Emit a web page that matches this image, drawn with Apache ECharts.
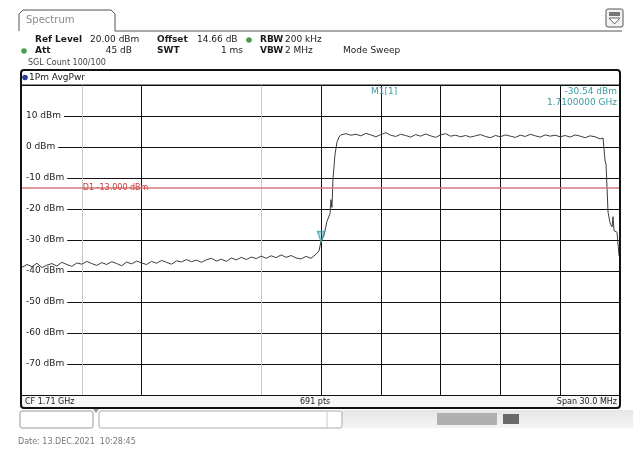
<!DOCTYPE html>
<html><head><meta charset="utf-8">
<script src="https://cdn.jsdelivr.net/npm/echarts@6/dist/echarts.min.js"></script>
<style>html,body{margin:0;padding:0;background:#fff}#c{width:633px;height:450px}</style>
</head><body><div id="c"></div>
<script>
// ---- data ----
const freqMHz = [
 1695.00,1695.25,1695.50,1695.75,1696.00,1696.25,1696.50,1696.75,1697.00,1697.25,
 1697.50,1697.75,1698.00,1698.25,1698.50,1698.75,1699.00,1699.25,1699.50,1699.75,
 1700.00,1700.25,1700.50,1700.75,1701.00,1701.25,1701.50,1701.75,1702.00,1702.25,
 1702.50,1702.75,1703.00,1703.25,1703.50,1703.75,1704.00,1704.25,1704.50,1704.75,
 1705.00,1705.25,1705.50,1705.75,1706.00,1706.25,1706.50,1706.75,1707.00,1707.25,
 1707.50,1707.75,1708.00,1708.25,1708.50,1708.75,1709.00,1709.25,1709.50,1709.75,
 1709.90,1710.00,1710.05,1710.15,1710.30,1710.45,1710.50,1710.55,1710.60,1710.70,1710.80,1710.90,1711.00,
 1711.25,1711.50,1711.75,1712.00,1712.25,1712.50,1712.75,1713.00,1713.25,1713.50,
 1713.75,1714.00,1714.25,1714.50,1714.75,1715.00,1715.25,1715.50,1715.75,1716.00,
 1716.25,1716.50,1716.75,1717.00,1717.25,1717.50,1717.75,1718.00,1718.25,1718.50,
 1718.75,1719.00,1719.25,1719.50,1719.75,1720.00,1720.25,1720.50,1720.75,1721.00,
 1721.25,1721.50,1721.75,1722.00,1722.25,1722.50,1722.75,1723.00,1723.25,1723.50,
 1723.75,1724.00,
 1724.15,1724.25,1724.30,1724.40,1724.50,1724.60,1724.65,1724.70,1724.85,1724.95,1725.00
];
const levelDbm = [
 -38.8,-37.9,-38.6,-37.5,-38.9,-38.1,-37.6,-38.4,-37.2,-37.9,
 -38.5,-37.4,-37.8,-36.9,-37.6,-38.2,-37.3,-37.9,-37.0,-37.6,
 -38.3,-37.1,-37.7,-36.8,-37.4,-37.9,-36.9,-37.5,-36.6,-37.2,
 -37.8,-36.7,-37.1,-36.3,-37.0,-36.5,-37.2,-36.4,-35.9,-36.8,
 -36.2,-36.9,-35.8,-36.4,-35.6,-36.3,-35.5,-36.0,-35.2,-35.9,
 -35.1,-35.7,-34.8,-35.6,-35.0,-35.8,-36.1,-35.3,-35.9,-34.6,
 -33.5,-30.5,-30.0,-28.5,-24.0,-21.5,-17.0,-19.5,-10.5,-2.5,1.5,3.2,3.9,
 4.3,3.8,4.1,3.6,4.4,3.9,3.3,4.0,4.6,3.8,
 3.4,4.1,3.7,3.2,4.0,3.5,4.2,3.6,3.1,3.9,
 4.3,3.5,3.8,3.3,3.7,3.2,3.6,4.0,3.4,3.0,
 3.7,3.3,3.9,3.5,3.1,3.8,3.4,4.1,3.6,3.2,
 3.9,3.5,3.8,3.3,3.7,3.2,3.9,3.5,3.0,3.6,
 3.3,2.6,
 2.9,-4.5,-5.5,-21.0,-24.5,-25.8,-22.5,-27.0,-27.5,-35.0,-34.5
];
const xMin = 1695, xMax = 1725, xStep = 3;
const yMin = -80, yMax = 20, yStep = 10;
const yUnit = ' dBm';
const markerFreq = 1710.0, markerLevel = -30.54;
const limitLevel = -13;
const limitLabel = 'D1 -13.000 dBm';
const limitLabelFreq = 1698.05;

const vGridColors = ['rgba(0,0,0,0)','#c9c9c9','#111','rgba(0,0,0,0)','#c9c9c9','#111','#111','#111','#111','#111','#111'];
const FONT = 'DejaVu Sans';
const chart = echarts.init(document.getElementById('c'), null, {renderer:'canvas'});

function txt(x, y, s, o) {
  o = o || {};
  return {type:'text', x:x, y:y, z:50, silent:true, style:{text:s, fill:o.fill||'#1a1a1a',
    font:(o.bold?'bold ':'')+(o.size||9)+'px "'+FONT+'"', textAlign:o.align||'left', textVerticalAlign:'middle'}};
}

const pts = freqMHz.map((f,i)=>[f, levelDbm[i]]);

const graphics = [
  // tab
  {type:'polyline', z:40, shape:{points:[[19,31],[19,14],[23,10],[111,10],[115,14],[115,31],[622,31]]}, style:{stroke:'#555', lineWidth:1, fill:null}},
  txt(26, 20, 'Spectrum', {fill:'#8a8a8a', size:10}),
  // icon
  {type:'rect', z:40, shape:{x:606, y:9, width:17, height:18, r:2}, style:{stroke:'#555', fill:'#f3f3f3', lineWidth:1}},
  {type:'rect', z:41, shape:{x:609, y:12, width:11, height:4}, style:{fill:'#777'}},
  {type:'polygon', z:41, shape:{points:[[609,18],[620,18],[614.5,24]]}, style:{stroke:'#666', fill:'#fff', lineWidth:1}},
  // header rows
  txt(35, 40, 'Ref Level', {bold:true}), txt(90, 40, '20.00 dBm'),
  txt(157, 40, 'Offset', {bold:true}), txt(197, 40, '14.66 dB'),
  {type:'circle', z:41, shape:{cx:249, cy:40, r:2.8}, style:{fill:'#4aa04a'}},
  txt(260, 40, 'RBW', {bold:true}), txt(285, 40, '200 kHz'),
  {type:'circle', z:41, shape:{cx:24, cy:51, r:2.8}, style:{fill:'#4aa04a'}},
  txt(35, 51, 'Att', {bold:true}), txt(132, 51, '45 dB', {align:'right'}),
  txt(157, 51, 'SWT', {bold:true}), txt(243, 51, '1 ms', {align:'right'}),
  txt(260, 51, 'VBW', {bold:true}), txt(285, 51, '2 MHz'),
  txt(343, 51, 'Mode Sweep'),
  txt(28, 63, 'SGL Count 100/100', {fill:'#444', size:8}),
  // trace header
  {type:'line', z:40, shape:{x1:20, y1:85, x2:621, y2:85}, style:{stroke:'#111', lineWidth:1}},
  {type:'circle', z:41, shape:{cx:25, cy:77.5, r:2.8}, style:{fill:'#2a3f9a'}},
  txt(29, 78, '1Pm AvgPwr', {size:9}),
  // marker readout
  txt(371, 92, 'M1[1]', {fill:'#3a9aa2'}),
  txt(617, 92, '-30.54 dBm', {fill:'#3a9aa2', align:'right'}),
  txt(617, 103, '1.7100000 GHz', {fill:'#3a9aa2', align:'right'}),
  // bottom bar
  {type:'rect', z:30, shape:{x:21, y:396, width:599, height:11}, style:{fill:'#f7f7f7'}},
  {type:'line', z:40, shape:{x1:21, y1:395.5, x2:620, y2:395.5}, style:{stroke:'#111', lineWidth:1}},
  txt(25, 401.5, 'CF 1.71 GHz', {size:8}),
  txt(300, 401.5, '691 pts', {size:8}),
  txt(617, 401.5, 'Span 30.0 MHz', {size:8, align:'right'}),
  // frame
  {type:'rect', z:45, shape:{x:21, y:70, width:599, height:338, r:3}, style:{stroke:'#111', lineWidth:2, fill:null}},
  // lower status boxes
  {type:'rect', z:40, shape:{x:20, y:411, width:73, height:17, r:2}, style:{stroke:'#999', fill:'#fff', lineWidth:1}},
  {type:'polygon', z:41, shape:{points:[[93,409],[99,409],[96,413]]}, style:{fill:'#999'}},
  {type:'rect', z:40, shape:{x:99, y:411, width:243, height:17, r:2}, style:{stroke:'#aaa', fill:'#fff', lineWidth:1}},
  {type:'line', z:41, shape:{x1:327, y1:411, x2:327, y2:428}, style:{stroke:'#ccc', lineWidth:1}},
  {type:'rect', z:39, shape:{x:342, y:410, width:291, height:18}, style:{fill:new echarts.graphic.LinearGradient(0,0,0,1,[{offset:0,color:'#e6e6e6'},{offset:1,color:'#f4f4f4'}])}},
  {type:'rect', z:41, shape:{x:437, y:413, width:60, height:12}, style:{fill:'#b0b0b0'}},
  {type:'rect', z:41, shape:{x:503, y:414, width:16, height:10}, style:{fill:'#6a6a6a'}},
  // date
  txt(18, 442, 'Date: 13.DEC.2021  10:28:45', {fill:'#777', size:8})
];

const option = {
  animation:false,
  backgroundColor:'#fff',
  grid:{left:22, right:13, top:85, bottom:55, containLabel:false},
  xAxis:{type:'value', min:xMin, max:xMax, interval:xStep,
    axisLine:{show:false}, axisTick:{show:false}, axisLabel:{show:false},
    splitLine:{show:true, lineStyle:{color:vGridColors, width:1}}},
  yAxis:{type:'value', min:yMin, max:yMax, interval:yStep,
    axisLine:{show:false}, axisTick:{show:false},
    axisLabel:{inside:true, margin:0, showMinLabel:false, showMaxLabel:false,
      formatter:v=>v+yUnit, color:'#222', fontFamily:FONT, fontSize:9,
      backgroundColor:'#fff', padding:[1,3,1,4]},
    splitLine:{show:true, lineStyle:{color:'#111', width:1}}},
  series:[
    {type:'line', data:pts, showSymbol:false, symbol:'none', z:3,
     lineStyle:{color:'#3c3c3c', width:1},
     markLine:{silent:true, symbol:'none', label:{show:false},
       lineStyle:{color:'#d47a7a', width:1.5, type:'solid'},
       data:[{yAxis:limitLevel}]}},
    {type:'scatter', data:[[markerFreq, markerLevel]], z:4,
     symbol:'triangle', symbolRotate:180, symbolSize:[7,10], symbolOffset:[0,-5],
     itemStyle:{color:'rgba(58,160,168,0.35)', borderColor:'#38a0a8', borderWidth:1.5}}
  ],
  graphic:graphics
};
chart.setOption(option);
const p = chart.convertToPixel({xAxisIndex:0, yAxisIndex:0}, [limitLabelFreq, limitLevel]);
graphics.push({type:'text', x:p[0], y:p[1]+0.5, z:50, silent:true,
  style:{text:limitLabel, fill:'#cc3a3a', font:'8px "'+FONT+'"', textAlign:'left', textVerticalAlign:'middle'}});
chart.setOption({graphic:graphics}, {replaceMerge:['graphic']});
</script></body></html>
